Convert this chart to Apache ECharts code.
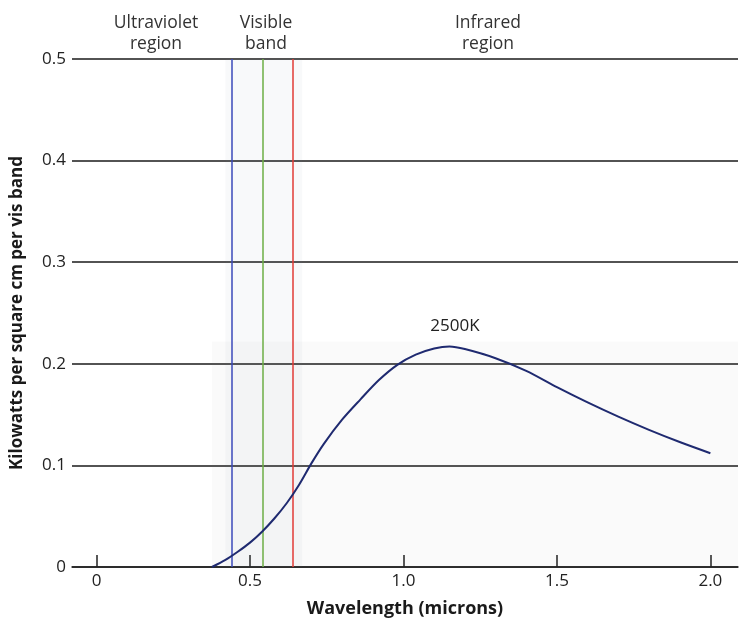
<!DOCTYPE html>
<html>
<head>
<meta charset="utf-8">
<script src="https://cdn.jsdelivr.net/npm/echarts@6/dist/echarts.min.js"></script>
<style>html,body{margin:0;padding:0;background:#fff}#c{width:740px;height:634px}</style>
</head>
<body>
<div id="c"></div>
<script>
// Data
const curveX = [0.376, 0.42, 0.46, 0.50, 0.54, 0.58, 0.62, 0.66, 0.70, 0.74, 0.80, 0.86, 0.92, 0.98, 1.04, 1.10, 1.15, 1.20, 1.30, 1.40, 1.50, 1.60, 1.70, 1.80, 1.90, 2.0];
const curveY = [0.0, 0.007, 0.015, 0.024, 0.035, 0.048, 0.063, 0.081, 0.102, 0.121, 0.145, 0.165, 0.184, 0.199, 0.209, 0.215, 0.217, 0.2145, 0.2055, 0.193, 0.177, 0.162, 0.148, 0.135, 0.123, 0.112];
const bandLines = [0.444, 0.542, 0.642];
const bandColors = ['#3b4aba', '#6cae45', '#e23b36'];
const xTicks = [0, 0.5, 1.0, 1.5, 2.0];
const xTickLabels = ['0', '0.5', '1.0', '1.5', '2.0'];
const yTickLabels = ['0', '0.1', '0.2', '0.3', '0.4', '0.5'];
const regionLabels = ['Ultraviolet\nregion', 'Visible\nband', 'Infrared\nregion'];
const curveLabel = '2500K';

const chart = echarts.init(document.getElementById('c'));
const FONT = 'Open Sans';
const curveData = curveX.map((x, i) => [x, curveY[i]]);

function regionText(cx, txt) {
  return { type: 'text', x: cx, y: 13, style: { text: txt, align: 'center', textAlign: 'center', fontFamily: FONT, fontSize: 17.5, lineHeight: 21, fill: '#333' } };
}

chart.setOption({
  animation: false,
  backgroundColor: '#fff',
  grid: { left: 72, right: 2, top: 59, bottom: 67, containLabel: false, outerBoundsMode: 'none' },
  xAxis: {
    type: 'value', min: -0.08, max: 2.09,
    name: 'Wavelength (microns)', nameLocation: 'middle', nameGap: 33,
    nameTextStyle: { fontFamily: FONT, fontWeight: 'bold', fontSize: 18, color: '#1a1a1a', verticalAlign: 'top' },
    axisLine: { show: true, lineStyle: { color: '#222', width: 1.5 } },
    axisTick: { show: true, inside: true, length: 12, customValues: xTicks, lineStyle: { color: '#222', width: 1.5 } },
    axisLabel: { customValues: xTicks, margin: 6, fontFamily: FONT, fontSize: 17, color: '#222',
      formatter: v => { const i = xTicks.findIndex(t => Math.abs(t - v) < 1e-6); return i >= 0 ? xTickLabels[i] : ''; } },
    splitLine: { show: false }
  },
  yAxis: {
    type: 'value', min: 0, max: 0.5, interval: 0.1,
    name: 'Kilowatts per square cm per vis band', nameLocation: 'middle', nameGap: 46,
    nameTextStyle: { fontFamily: FONT, fontWeight: 'bold', fontSize: 17, color: '#1a1a1a' },
    axisLine: { show: false }, axisTick: { show: false },
    axisLabel: { margin: 6, fontFamily: FONT, fontSize: 17, color: '#222',
      formatter: v => yTickLabels[Math.round(v * 10)] },
    splitLine: { show: true, lineStyle: { color: '#1a1a1a', width: 1.5 } }
  },
  series: [{
    type: 'line', data: curveData, smooth: 0.3, showSymbol: false,
    lineStyle: { color: '#1f2a70', width: 2 }, z: 5,
    markLine: {
      silent: true, symbol: 'none', label: { show: false },
      data: bandLines.map((x, i) => ({ xAxis: x, lineStyle: { color: bandColors[i], width: 1.5, type: 'solid' } }))
    },
    markArea: {
      silent: true,
      data: [
        [{ xAxis: 0.42, yAxis: 0, itemStyle: { color: 'rgba(120,135,160,0.05)' } }, { xAxis: 0.67, yAxis: 0.5 }],
        [{ xAxis: 0.376, yAxis: 0, itemStyle: { color: 'rgba(120,120,120,0.035)' } }, { xAxis: 2.09, yAxis: 0.222 }]
      ]
    }
  }],
  graphic: [
    regionText(156, regionLabels[0]),
    regionText(266, regionLabels[1]),
    regionText(488, regionLabels[2]),
    { type: 'text', x: 455, y: 318, style: { text: curveLabel, align: 'center', textAlign: 'center', fontFamily: FONT, fontSize: 17, fill: '#222' } }
  ]
});
</script>
</body>
</html>
